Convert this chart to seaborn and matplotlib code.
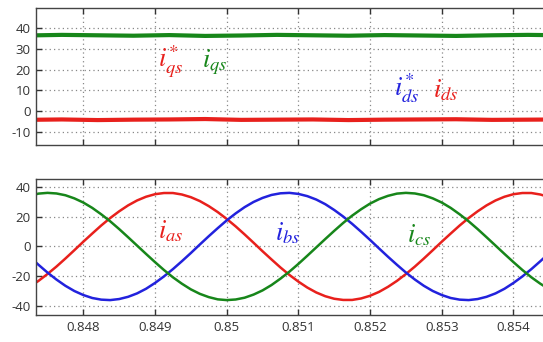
import seaborn as sns
import matplotlib.pyplot as plt
import numpy as np
import pandas as pd

# time axis (s)
t_dq = [0.8472, 0.8477, 0.8482, 0.8487, 0.8492, 0.8497, 0.8502, 0.8507,
        0.8512, 0.8517, 0.8522, 0.8527, 0.8532, 0.8537, 0.8542, 0.8547]
iqs = [36.4, 36.7, 36.5, 36.3, 36.6, 36.2, 36.4, 36.7,
       36.5, 36.3, 36.6, 36.4, 36.2, 36.5, 36.7, 36.5]
ids = [-4.2, -4.0, -4.3, -4.1, -4.0, -3.8, -4.2, -4.1,
       -4.0, -4.3, -4.1, -4.0, -3.9, -4.2, -4.1, -4.0]

t_abc = [0.84725, 0.847375, 0.8475, 0.847625, 0.84775, 0.847875, 0.848, 0.848125,
         0.84825, 0.848375, 0.8485, 0.848625, 0.84875, 0.848875, 0.849, 0.849125,
         0.84925, 0.849375, 0.8495, 0.849625, 0.84975, 0.849875, 0.85, 0.850125,
         0.85025, 0.850375, 0.8505, 0.850625, 0.85075, 0.850875, 0.851, 0.851125,
         0.85125, 0.851375, 0.8515, 0.851625, 0.85175, 0.851875, 0.852, 0.852125,
         0.85225, 0.852375, 0.8525, 0.852625, 0.85275, 0.852875, 0.853, 0.853125,
         0.85325, 0.853375, 0.8535, 0.853625, 0.85375, 0.853875, 0.854, 0.854125,
         0.85425, 0.854375, 0.8545, 0.854625]
ias = [-27.1, -23.1, -18.5, -13.5, -8.1, -2.5, 3.2, 8.7, 14.1, 19.1,
       23.6, 27.6, 30.9, 33.4, 35.1, 35.9, 35.9, 34.9, 33.1, 30.5,
       27.1, 23.1, 18.5, 13.5, 8.1, 2.5, -3.2, -8.7, -14.1, -19.1,
       -23.6, -27.6, -30.9, -33.4, -35.1, -35.9, -35.9, -34.9, -33.1, -30.5,
       -27.1, -23.1, -18.5, -13.5, -8.1, -2.5, 3.2, 8.7, 14.1, 19.1,
       23.6, 27.6, 30.9, 33.4, 35.1, 35.9, 35.9, 34.9, 33.1, 30.5]
ibs = [-6.9, -12.3, -17.5, -22.2, -26.4, -29.9, -32.6, -34.6, -35.7, -36.0,
       -35.3, -33.8, -31.5, -28.4, -24.5, -20.1, -15.2, -9.9, -4.4, 1.3,
       6.9, 12.3, 17.5, 22.2, 26.4, 29.9, 32.6, 34.6, 35.7, 36.0,
       35.3, 33.8, 31.5, 28.4, 24.5, 20.1, 15.2, 9.9, 4.4, -1.3,
       -6.9, -12.3, -17.5, -22.2, -26.4, -29.9, -32.6, -34.6, -35.7, -36.0,
       -35.3, -33.8, -31.5, -28.4, -24.5, -20.1, -15.2, -9.9, -4.4, 1.3]
ics = [34.0, 35.5, 36.0, 35.6, 34.4, 32.3, 29.5, 25.9, 21.6, 16.9,
       11.7, 6.2, 0.6, -5.0, -10.5, -15.8, -20.7, -25.0, -28.8, -31.8,
       -34.0, -35.5, -36.0, -35.6, -34.4, -32.3, -29.5, -25.9, -21.6, -16.9,
       -11.7, -6.2, -0.6, 5.0, 10.5, 15.8, 20.7, 25.0, 28.8, 31.8,
       34.0, 35.5, 36.0, 35.6, 34.4, 32.3, 29.5, 25.9, 21.6, 16.9,
       11.7, 6.2, 0.6, -5.0, -10.5, -15.8, -20.7, -25.0, -28.8, -31.8]

x_ticks = [0.848, 0.849, 0.850, 0.851, 0.852, 0.853, 0.854]
x_labels = ["0.848", "0.849", "0.85", "0.851", "0.852", "0.853", "0.854"]
y_top_ticks = [40, 30, 20, 10, 0, -10]
y_bot_ticks = [40, 20, 0, -20, -40]

RED, GREEN, BLUE = "#e8201c", "#17861a", "#2222dd"

sns.set_style("ticks")
plt.rcParams["font.family"] = ["Open Sans", "DejaVu Sans"]
plt.rcParams["mathtext.fontset"] = "stix"

fig = plt.figure(figsize=(5.43, 3.42), dpi=100)
ax1 = fig.add_axes([0.0663, 0.576, 0.94, 0.401])
ax2 = fig.add_axes([0.0663, 0.079, 0.94, 0.398])

top = pd.DataFrame({"t": t_dq * 2, "val": iqs + ids,
                    "sig": ["iqs"] * len(t_dq) + ["ids"] * len(t_dq)})
sns.lineplot(data=top, x="t", y="val", hue="sig", palette={"iqs": GREEN, "ids": RED},
             ax=ax1, legend=False, linewidth=3.0)

bot = pd.DataFrame({"t": t_abc * 3, "val": ias + ibs + ics,
                    "sig": ["a"] * len(t_abc) + ["b"] * len(t_abc) + ["c"] * len(t_abc)})
sns.lineplot(data=bot, x="t", y="val", hue="sig",
             palette={"a": RED, "b": BLUE, "c": GREEN},
             ax=ax2, legend=False, linewidth=1.8)

for ax, yt in [(ax1, y_top_ticks), (ax2, y_bot_ticks)]:
    ax.set_xlim(0.84734, 0.85446)
    ax.set_xticks(x_ticks)
    ax.set_yticks(yt)
    ax.set_yticklabels([str(v) for v in yt])
    ax.grid(True, linestyle=(0, (1, 2.5)), color="#888888", linewidth=0.9)
    ax.set_axisbelow(True)
    ax.set_xlabel("")
    ax.set_ylabel("")
    ax.tick_params(direction="in", length=4, width=1, top=True, right=False,
                   colors="#333333", labelsize=9.5, pad=4)
    for s in ["left", "top", "bottom"]:
        ax.spines[s].set_color("#444444")
        ax.spines[s].set_linewidth(1)
    ax.spines["right"].set_visible(False)

ax1.set_ylim(-16.3, 49.7)
ax1.set_xticklabels([])
ax2.set_ylim(-46, 45.4)
ax2.set_xticklabels(x_labels)

fs = 19
ax1.text(0.84922, 24, r"$i_{qs}^{*}$", color=RED, fontsize=fs, ha="center", va="center")
ax1.text(0.84983, 23.6, r"$i_{qs}$", color=GREEN, fontsize=fs, ha="center", va="center")
ax1.text(0.85251, 11, r"$i_{ds}^{*}$", color=BLUE, fontsize=fs, ha="center", va="center")
ax1.text(0.85306, 10, r"$i_{ds}$", color=RED, fontsize=fs, ha="center", va="center")
ax2.text(0.84922, 10, r"$i_{as}$", color=RED, fontsize=fs, ha="center", va="center")
ax2.text(0.85085, 8.7, r"$i_{bs}$", color=BLUE, fontsize=fs, ha="center", va="center")
ax2.text(0.85268, 7.4, r"$i_{cs}$", color=GREEN, fontsize=fs, ha="center", va="center")

fig.savefig("out.png", dpi=100)
